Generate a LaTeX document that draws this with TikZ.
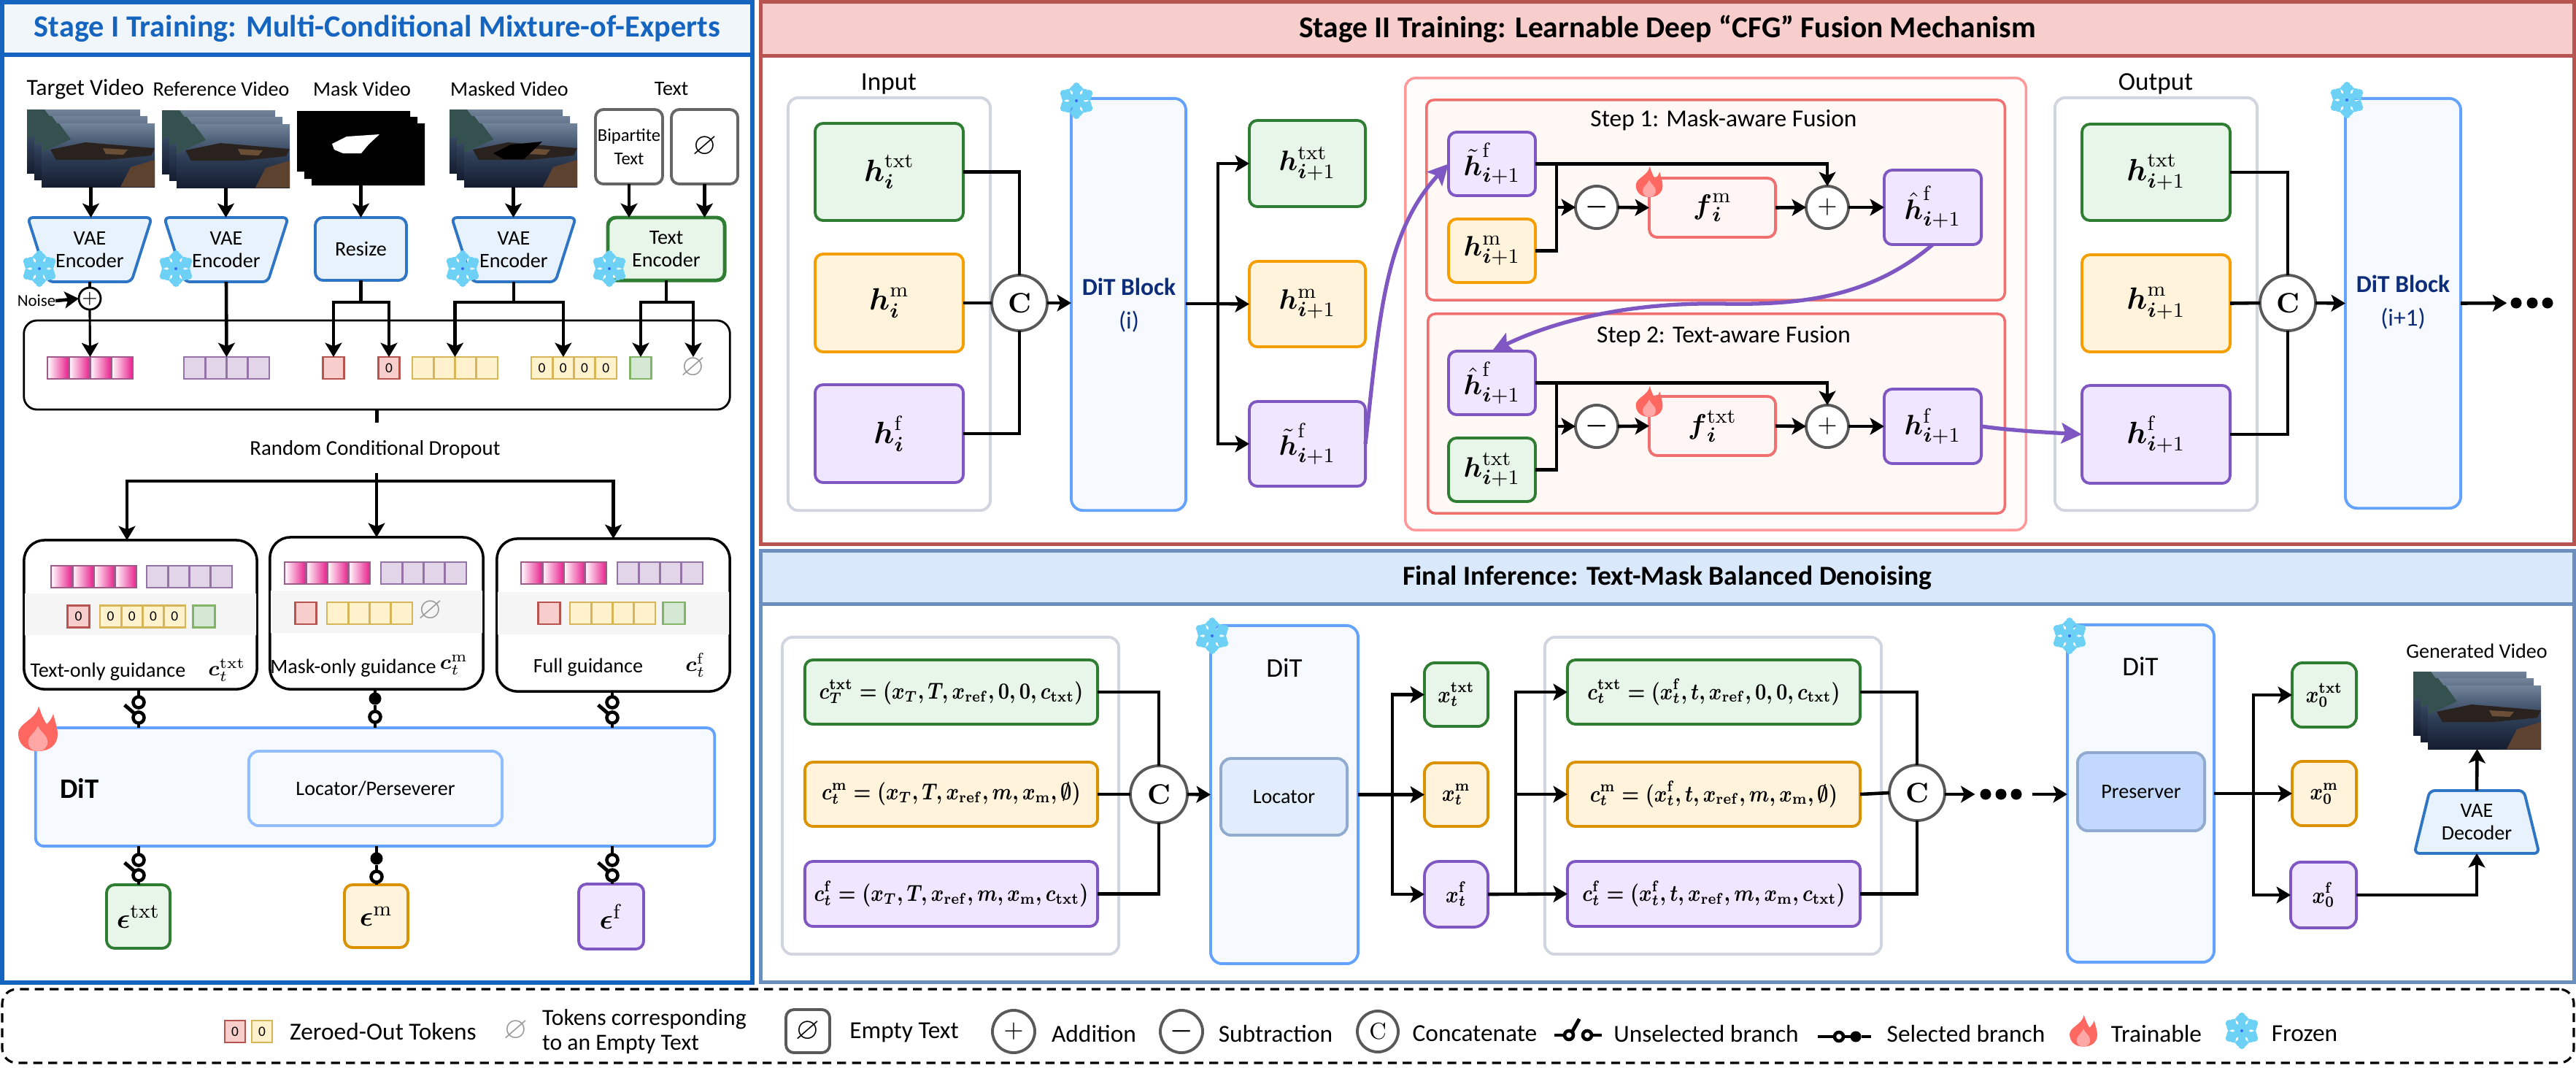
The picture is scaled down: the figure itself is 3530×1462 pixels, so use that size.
\documentclass[tikz,border=0pt]{standalone}
\usepackage[no-math]{fontspec}
\usepackage{amsmath,amssymb,graphicx}
\setmainfont{Carlito}
\usetikzlibrary{arrows.meta}
\definecolor{oneblue}{HTML}{1565C0}
\definecolor{twored}{HTML}{B85450}
\definecolor{twofill}{HTML}{F8CECC}
\definecolor{infblue}{HTML}{6C8EBF}
\definecolor{inffill}{HTML}{DAE8FC}
\definecolor{presfill}{HTML}{C2D8FC}
\definecolor{gline}{HTML}{2E7D32}
\definecolor{gfill}{HTML}{E8F5E9}
\definecolor{oline}{HTML}{F59E00}
\definecolor{ofill}{HTML}{FFF3DC}
\definecolor{odark}{HTML}{DB9200}
\definecolor{pline}{HTML}{7E57C2}
\definecolor{pfill}{HTML}{F0E6FF}
\definecolor{ditline}{HTML}{64A2FF}
\definecolor{ditfill}{HTML}{F6FAFF}
\definecolor{vaeline}{HTML}{2F75C6}
\definecolor{vaefill}{HTML}{E8F2FC}
\definecolor{frost}{HTML}{6DD0F5}
\definecolor{navy}{HTML}{0D2C7A}
\definecolor{stepline}{HTML}{F07070}
\definecolor{stepfill}{HTML}{FFF8F5}
\definecolor{grayline}{HTML}{D0D5E0}
\definecolor{scsky}{HTML}{71849A}
\definecolor{scmid}{HTML}{2F4058}
\definecolor{scwater}{HTML}{151D30}
\definecolor{schill}{HTML}{34504F}
\definecolor{scboat}{HTML}{29221E}
\definecolor{scdeck}{HTML}{6B4E36}
\definecolor{scrock}{HTML}{5E4230}
\newcommand{\hh}{\boldsymbol{h}}
\newcommand{\ii}{\boldsymbol{i}}
\newcommand{\xx}{\boldsymbol{x}}
\newcommand{\cc}{\boldsymbol{c}}
\newcommand{\tx}{\mathrm{txt}}
\newcommand{\mk}{\mathrm{m}}
\newcommand{\ff}{\mathrm{f}}
\newcommand{\fml}[1]{\scalebox{.82}[1]{\boldmath$#1$}}
\newcommand{\sceneframe}[2]{%
  \fill[top color=scsky,bottom color=scwater,middle color=scmid] (#1,#2) rectangle (#1+155,#2+87);
  \fill[schill] (#1,#2) -- (#1+24,#2) -- (#1+40,#2+22) -- (#1+8,#2+36) -- (#1,#2+40) -- cycle;
  \fill[scboat] (#1+12,#2+36) -- (#1+60,#2+26) -- (#1+155,#2+34) -- (#1+150,#2+44) -- (#1+90,#2+50) -- (#1+20,#2+50) -- cycle;
  \fill[scdeck] (#1+84,#2+34) -- (#1+118,#2+36) -- (#1+112,#2+43) -- (#1+88,#2+42) -- cycle;
  \fill[scrock] (#1+108,#2+87) -- (#1+122,#2+60) -- (#1+155,#2+50) -- (#1+155,#2+87) -- cycle;}
\newcommand{\videostack}[3]{%
  \sceneframe{#2}{#3}
  \sceneframe{#2+10}{#3+9}
  \sceneframe{#2+20}{#3+19}
  \node[minimum width=1.75cm,minimum height=1.06cm] (#1) at (#2+87.5,#3+53) {};}
\newcommand{\tokrow}[5]{%
  \foreach \k in {0,1,2,3}
    \node[cell,#4] (#1\k) at (#2+29.25*\k,#3) {#5};}
\newcommand{\vaeshape}[7]{%
  \draw[vae] (#2-#4/2,#3-#6/2) -- (#2+#4/2,#3-#6/2) -- (#2+#5/2,#3+#6/2) -- (#2-#5/2,#3+#6/2) -- cycle;
  \node[minimum width=1.2cm,minimum height=#6*0.01cm,align=center,font=\fontsize{8}{9}\selectfont] (#1) at (#2,#3) {#7};}
\newcommand{\swoff}[5]{%
  \node[swopen] (#1a) at (#2,#3) {};
  \node[swopen] (#1b) at (#2,#3+21) {};
  \draw[swline] (#4 -| #1a) -- (#1a);
  \draw[swline] (#1b) -- (#5 -| #1b);
  \draw[swline] (#1b.north west) -- ++(-14,-12);}
\newcommand{\swon}[5]{%
  \node[swfull] (#1a) at (#2,#3) {};
  \node[swopen] (#1b) at (#2,#3+25) {};
  \draw[swline] (#4 -| #1a) -- (#1a) -- (#1b) -- (#5 -| #1b);}
\tikzset{
  snowflake/.pic={
    \foreach \a in {30,90,150,210,270,330}{
      \draw[frost,line width=2.6pt] (0,0) -- (\a:21);
      \draw[frost,line width=1.8pt] (\a:12) -- ++(\a+50:10);
      \draw[frost,line width=1.8pt] (\a:12) -- ++(\a-50:10);
      \fill[frost] (\a:20) circle (5);}
    \fill[frost] (0,0) circle (10);
    \fill[blue!50!frost] (0,0) circle (2);},
  flame/.pic={
    \fill[red!60!white!95!orange] (0,31) .. controls (-18,31) and (-27,20) .. (-27,7) .. controls (-27,-8) and (-2,-12) .. (1,-31) .. controls (5,-18) and (8,-12) .. (12,-6) .. controls (16,-10) and (19,-14) .. (21,-20) .. controls (24,-8) and (27,0) .. (27,8) .. controls (27,22) and (16,31) .. (0,31) -- cycle;
    \fill[red!35!white] (0,31) .. controls (-10,31) and (-14,24) .. (-13,16) .. controls (-11,8) and (-4,6) .. (0,-4) .. controls (4,6) and (12,8) .. (13,17) .. controls (14,25) and (8,31) .. (0,31) -- cycle;},
}
\begin{document}
\begin{tikzpicture}[x=0.01cm,y=-0.01cm,
    every node/.style={inner sep=0pt,outer sep=0pt},
    conn/.style={line width=1.3pt},
    arr/.style={line width=1.3pt,-{Stealth[length=5.5pt,width=6.5pt,inset=1.3pt]}},
    purp/.style={line width=1.5pt,pline,-{Stealth[length=8pt,width=8pt,inset=1.6pt]}},
    lbl/.style={font=\fontsize{8}{9}\selectfont,align=center},
    leg/.style={font=\fontsize{9.5}{11}\selectfont,align=center},
    bigmath/.style={font=\fontsize{12}{14}\selectfont},
    midmath/.style={font=\fontsize{11}{13}\selectfont},
    fmath/.style={font=\fontsize{9}{11}\selectfont},
    box/.style={draw,line width=1.1pt,rounded corners=0.11cm},
    gbox/.style={box,draw=gline,fill=gfill},
    obox/.style={box,draw=oline,fill=ofill},
    odbox/.style={box,draw=odark,fill=ofill},
    pbox/.style={box,draw=pline,fill=pfill},
    graybox/.style={draw=grayline,line width=1.1pt,rounded corners=0.14cm,fill=white},
    ditbox/.style={box,draw=ditline,fill=ditfill,rounded corners=0.16cm},
    vae/.style={draw=vaeline,fill=vaefill,line width=1.1pt,rounded corners=0.07cm},
    opc/.style={circle,draw=black!65,fill=white,line width=1.1pt,minimum size=0.58cm},
    bigc/.style={opc,minimum size=0.76cm,font=\fontsize{11}{13}\selectfont},
    stepbox/.style={draw=stepline,fill=stepfill,line width=1pt,rounded corners=0.1cm},
    fbox/.style={box,draw=stepline,fill=red!4},
    cell/.style={draw,line width=0.8pt,minimum width=0.2925cm,minimum height=0.3cm,font=\fontsize{5.5}{6}\selectfont},
    tpink/.style={draw={rgb,255:red,160;green,90;blue,138},left color=white,right color={rgb,255:red,233;green,30;blue,140}},
    tpurple/.style={draw={rgb,255:red,150;green,115;blue,166},fill={rgb,255:red,225;green,213;blue,231}},
    tred/.style={draw=twored,fill=twofill},
    tyellow/.style={draw={rgb,255:red,214;green,182;blue,86},fill={rgb,255:red,255;green,242;blue,204}},
    tgreen/.style={draw={rgb,255:red,130;green,179;blue,102},fill={rgb,255:red,213;green,232;blue,212}},
    emptytok/.style={text=black!40,font=\fontsize{12}{14}\selectfont},
    swline/.style={line width=1.4pt},
    swopen/.style={circle,draw,line width=1.3pt,fill=white,minimum size=0.15cm},
    swfull/.style={circle,fill=black,minimum size=0.17cm},
    dotn/.style={circle,fill=black,minimum size=0.15cm}]
\path[use as bounding box,fill=white] (0,0) rectangle (3530,1462);

% panels
\node[draw=oneblue,line width=1.7pt,minimum width=10.28cm,minimum height=13.43cm] (stageone) at (517,674.5) {};
\node[draw=oneblue,fill=oneblue!6,line width=1.7pt,minimum width=10.28cm,minimum height=0.72cm,font=\bfseries\fontsize{12}{14}\selectfont,text=oneblue] (onehead) at (517,39) {Stage I Training: Multi-Conditional Mixture-of-Experts};
\node[draw=twored,line width=1.4pt,minimum width=24.84cm,minimum height=7.42cm] (stagetwo) at (2285,374) {};
\node[draw=twored,fill=twofill,line width=1.4pt,minimum width=24.84cm,minimum height=0.73cm,font=\bfseries\fontsize{11.8}{14}\selectfont] (twohead) at (2285,39.5) {Stage II Training: Learnable Deep ``CFG'' Fusion Mechanism};
\node[draw=infblue,line width=1.4pt,minimum width=24.84cm,minimum height=5.9cm] (stageinf) at (2285,1050) {};
\node[draw=infblue,fill=inffill,line width=1.4pt,minimum width=24.84cm,minimum height=0.72cm,font=\bfseries\fontsize{10.7}{13}\selectfont] (infhead) at (2285,791) {Final Inference: Text-Mask Balanced Denoising};
\node[draw,dashed,dash pattern=on 3.5pt off 2.3pt,line width=0.9pt,rounded corners=0.2cm,minimum width=35.22cm,minimum height=1.01cm] (legend) at (1765,1405.5) {};

% stage one, inputs
\node[lbl,font=\fontsize{9}{10}\selectfont] (lt) at (117,122) {Target Video};
\node[lbl] (lr) at (303,122) {Reference Video};
\node[lbl] (lm) at (496,122) {Mask Video};
\node[lbl] (lk) at (698,122) {Masked Video};
\node[lbl] (lx) at (920,122) {Text};
\videostack{vt}{37}{150}
\videostack{vr}{222}{151}
\fill[black] (407,152) rectangle (562,235) (417,160) rectangle (572,245) (427,169) rectangle (582,254);
\fill[white] (455,197) -- (475,187) -- (520,184) -- (505,198) -- (495,210) -- (470,210) -- (458,205) -- cycle;
\node[minimum width=1.75cm,minimum height=1.02cm] (vm) at (494.5,203) {};
\videostack{vk}{616}{150}
\fill[black] (743,194) -- (700,198) -- (676,210) -- (690,218) -- (718,218) -- cycle;
\node[box,draw=black!60,fill=white,minimum width=0.92cm,minimum height=1.02cm,font=\fontsize{7}{9}\selectfont,align=center] (bip) at (862,201) {Bipartite\\Text};
\node[box,draw=black!60,fill=white,minimum width=0.91cm,minimum height=1.02cm,font=\fontsize{12}{14}\selectfont] (emp) at (965.5,201) {$\boldsymbol{\varnothing}$};
\vaeshape{enc1}{123}{342}{170}{114}{88}{VAE\\Encoder}
\vaeshape{enc2}{310}{342}{170}{114}{88}{VAE\\Encoder}
\vaeshape{enc3}{704}{342}{170}{114}{88}{VAE\\Encoder}
\node[box,draw=vaeline,fill=vaefill,minimum width=1.25cm,minimum height=0.86cm,lbl] (rsz) at (494.5,341) {Resize};
\node[box,draw=gline,fill=gfill,line width=1.4pt,minimum width=1.6cm,minimum height=0.86cm,lbl] (txe) at (913,341) {Text\\Encoder};
\draw[arr] (vt.south) -- (vt.south |- enc1.north);
\draw[arr] (vr.south) -- (vr.south |- enc2.north);
\draw[arr] (vm.south) -- (rsz.north);
\draw[arr] (vk.south) -- (vk.south |- enc3.north);
\draw[arr] (bip.south) -- (bip.south |- txe.north);
\draw[arr] (emp.south) -- (emp.south |- txe.north);
\pic at (54,368) {snowflake};
\pic at (241,368) {snowflake};
\pic at (634,368) {snowflake};
\pic at (835,368) {snowflake};

% token row
\node[draw,line width=0.8pt,rounded corners=0.18cm,minimum width=9.67cm,minimum height=1.22cm] (tbox) at (516.5,500) {};
\tokrow{tp}{79.6}{504}{tpink}{}
\tokrow{tq}{266.6}{504}{tpurple}{}
\node[cell,tred] (tkr) at (457,504) {};
\node[cell,tred] (tkz) at (533,504) {0};
\tokrow{ty}{579.6}{504}{tyellow}{}
\tokrow{to}{742.6}{504}{tyellow}{0}
\node[cell,tgreen] (tkg) at (878,504) {};
\node[emptytok,minimum height=0.3cm] (tke) at (950,504) {$\boldsymbol{\varnothing}$};
\node[opc,minimum size=0.3cm,line width=0.8pt,draw=black,font=\fontsize{7}{8}\selectfont] (pl0) at (123,409) {$+$};
\node[font=\fontsize{6.5}{8}\selectfont] (noise) at (50,412) {Noise};
\draw[arr] (noise.east) -- (pl0.west);
\draw[conn,line width=0.9pt] (enc1.south) -- (pl0.north);
\draw[arr,line width=0.9pt] (pl0.south) -- (tp1.north east);
\draw[arr] (enc2.south) -- (tq1.north east);
\draw[arr] (rsz.south) -- ++(0,30) -| (tkr.north);
\draw[arr] (rsz.south) -- ++(0,30) -| (tkz.north);
\draw[arr] (enc3.south) -- ++(0,28) -| (ty1.north east);
\draw[arr] (enc3.south) -- ++(0,28) -| (to1.north);
\draw[arr] (txe.south) -- ++(0,30) -| (tkg.north);
\draw[arr] (txe.south) -- ++(0,30) -| (tke.north);
\draw[conn] (tbox.south) -- ++(0,18);
\node[lbl,font=\fontsize{8.2}{10}\selectfont] (drop) at (514,616) {Random Conditional Dropout};

% three guidances
\node[draw,line width=1pt,rounded corners=0.28cm,minimum width=3.19cm,minimum height=2.04cm] (g1) at (192.5,842) {};
\node[draw,line width=1pt,rounded corners=0.28cm,minimum width=2.92cm,minimum height=2.08cm] (g2) at (516,840) {};
\node[draw,line width=1pt,rounded corners=0.28cm,minimum width=3.19cm,minimum height=2.09cm] (g3) at (840.5,842.5) {};
\coordinate (dtop) at (516,648);
\coordinate (dbar) at (516,659);
\coordinate (g1in) at (174,740);
\draw[arr] (dtop) -- (g2.north);
\draw[arr] (dbar) -| (g1in);
\draw[arr] (dbar) -| (g3.north);
\fill[black!4] (34,813) rectangle (351,870) (371,809) rectangle (661,867) (682,811) rectangle (999,869);
\tokrow{ap}{84.6}{790}{tpink}{}
\tokrow{aq}{215.6}{790}{tpurple}{}
\node[cell,tred] (ar) at (107.5,844.5) {0};
\tokrow{ay}{151.6}{844.5}{tyellow}{0}
\node[cell,tgreen] (ag) at (279.5,844.5) {};
\tokrow{bp}{404.6}{785}{tpink}{}
\tokrow{bq}{536.6}{785}{tpurple}{}
\node[cell,tred] (br) at (419,840) {};
\tokrow{by}{462.6}{840}{tyellow}{}
\node[emptytok] (be) at (590,837) {$\boldsymbol{\varnothing}$};
\tokrow{cp}{728.6}{785}{tpink}{}
\tokrow{cq}{860.6}{785}{tpurple}{}
\node[cell,tred] (cr) at (752.5,840) {};
\tokrow{cy}{795.6}{840}{tyellow}{}
\node[cell,tgreen] (cg) at (923.5,840) {};
\node[lbl] (t1) at (148,920) {Text-only guidance};
\node[font=\fontsize{8.5}{10}\selectfont] (c1) at (311,918) {$\cc_t^{\tx}$};
\node[lbl] (t2) at (484,915) {Mask-only guidance};
\node[font=\fontsize{8.5}{10}\selectfont] (c2) at (622,911) {$\cc_t^{\mk}$};
\node[lbl] (t3) at (806,914) {Full guidance};
\node[font=\fontsize{8.5}{10}\selectfont] (c3) at (953,911) {$\cc_t^{\ff}$};

% stage one, dit and switches
\node[box,draw=ditline,fill=ditfill,minimum width=9.3cm,minimum height=1.62cm] (dit0) at (514,1078) {};
\node[box,draw=ditline!70,fill=ditfill,rounded corners=0.14cm,minimum width=3.47cm,minimum height=1.02cm,font=\fontsize{8}{10}\selectfont] (loc0) at (514.5,1080) {Locator/Perseverer};
\node[font=\bfseries\fontsize{11}{13}\selectfont] (dt0) at (109,1080) {DiT};
\pic at (52,998) {flame};
\swoff{s1}{190}{962}{g1.south}{dit0.north}
\swon{s2}{514}{957}{g2.south}{dit0.north}
\swoff{s3}{839}{962}{g3.south}{dit0.north}
\node[gbox,minimum width=0.87cm,minimum height=0.87cm,midmath] (e1) at (189.5,1255.5) {$\boldsymbol{\epsilon}^{\tx}$};
\node[odbox,minimum width=0.87cm,minimum height=0.86cm,midmath] (e2) at (515.5,1255) {$\boldsymbol{\epsilon}^{\mk}$};
\node[pbox,minimum width=0.89cm,minimum height=0.89cm,midmath] (e3) at (837.5,1255.5) {$\boldsymbol{\epsilon}^{\ff}$};
\swoff{s4}{190}{1178}{dit0.south}{e1.north}
\swon{s5}{516}{1176}{dit0.south}{e2.north}
\swoff{s6}{839}{1178}{dit0.south}{e3.north}

% stage two, input side
\node[font=\fontsize{10}{12}\selectfont] (inl) at (1218,115) {Input};
\node[graybox,minimum width=2.77cm,minimum height=5.65cm] (ing) at (1218.5,416.5) {};
\node[gbox,minimum width=2.03cm,minimum height=1.33cm,bigmath] (hit) at (1218.5,235.5) {$\hh_{\ii}^{\tx}$};
\node[obox,minimum width=2.03cm,minimum height=1.34cm,bigmath] (him) at (1218.5,415) {$\hh_{\ii}^{\mk}$};
\node[pbox,minimum width=2.03cm,minimum height=1.34cm,bigmath] (hif) at (1218.5,594) {$\hh_{\ii}^{\ff}$};
\node[bigc] (ci) at (1397,415) {$\mathbf{C}$};
\draw[conn] (hit.east) -| (ci.north);
\draw[conn] (him.east) -- (ci.west);
\draw[conn] (hif.east) -| (ci.south);
\node[ditbox,minimum width=1.57cm,minimum height=5.64cm] (dit1) at (1546.5,417) {};
\node[text=navy,align=center,font=\bfseries\fontsize{9.5}{12}\selectfont] (dit1t) at (1547,418) {DiT Block\\[1pt]\mdseries (i)};
\pic at (1475,138) {snowflake};
\draw[arr] (ci.east) -- (ci.east -| dit1.west);
\node[gbox,minimum width=1.59cm,minimum height=1.18cm,midmath] (nt) at (1791.5,224) {$\hh_{\ii+1}^{\tx}$};
\node[obox,minimum width=1.59cm,minimum height=1.17cm,midmath] (nm) at (1791.5,416.5) {$\hh_{\ii+1}^{\mk}$};
\node[pbox,minimum width=1.59cm,minimum height=1.16cm,midmath] (nf) at (1791.5,608) {$\tilde{\hh}_{\ii+1}^{\ff}$};
\coordinate (bra) at (1669,416);
\draw[conn] (dit1.east |- bra) -- (bra);
\draw[arr] (bra) -- (nm.west);
\draw[arr] (bra) |- (nt.west);
\draw[arr] (bra) |- (nf.west);

% fusion steps
\node[draw=red!40,fill=red!1,line width=1pt,rounded corners=0.14cm,minimum width=8.5cm,minimum height=6.19cm] (fus) at (2351,416.5) {};
\node[stepbox,minimum width=7.92cm,minimum height=2.74cm] (st1) at (2351,274) {};
\node[stepbox,minimum width=7.9cm,minimum height=2.73cm] (st2) at (2352,566.5) {};
\node[font=\fontsize{9.5}{11}\selectfont] (st1t) at (2362,165) {Step 1: Mask-aware Fusion};
\node[font=\fontsize{9.5}{11}\selectfont] (st2t) at (2362,461) {Step 2: Text-aware Fusion};
\node[pbox,minimum width=1.19cm,minimum height=0.87cm,midmath] (aa) at (2044.5,224.5) {$\tilde{\hh}_{\ii+1}^{\ff}$};
\node[obox,minimum width=1.19cm,minimum height=0.87cm,midmath] (ab) at (2044.5,343.5) {$\hh_{\ii+1}^{\mk}$};
\node[opc,font=\fontsize{10}{12}\selectfont] (am) at (2188,284) {$\boldsymbol{-}$};
\node[fbox,minimum width=1.73cm,minimum height=0.81cm,midmath] (af) at (2346.5,284.5) {$\boldsymbol{f}_{\ii}^{\mk}$};
\node[opc,font=\fontsize{10}{12}\selectfont] (ap) at (2504,284) {$+$};
\node[pbox,minimum width=1.33cm,minimum height=1.02cm,midmath] (ah) at (2648.5,284) {$\hat{\hh}_{\ii+1}^{\ff}$};
\coordinate (aj) at (2133,284);
\draw[arr] (aa.east) -| (ap.north);
\draw[conn] (ab.east) -| (aj |- aa.east);
\draw[arr] (aj) -- (am.west);
\draw[arr] (am.east) -- (af.west);
\draw[arr] (af.east) -- (ap.west);
\draw[arr] (ap.east) -- (ah.west);
\pic[scale=.68] at (2260,249) {flame};
\node[pbox,minimum width=1.19cm,minimum height=0.87cm,midmath] (ba) at (2044.5,524.5) {$\hat{\hh}_{\ii+1}^{\ff}$};
\node[gbox,minimum width=1.19cm,minimum height=0.87cm,midmath] (bb) at (2044.5,643.5) {$\hh_{\ii+1}^{\tx}$};
\node[opc,font=\fontsize{10}{12}\selectfont] (bm) at (2188,584) {$\boldsymbol{-}$};
\node[fbox,minimum width=1.73cm,minimum height=0.81cm,midmath] (bf) at (2346.5,583.5) {$\boldsymbol{f}_{\ii}^{\tx}$};
\node[opc,font=\fontsize{10}{12}\selectfont] (bl) at (2504,584) {$+$};
\node[pbox,minimum width=1.33cm,minimum height=1.02cm,midmath] (bh) at (2648.5,584) {$\hh_{\ii+1}^{\ff}$};
\coordinate (bj) at (2133,584);
\draw[arr] (ba.east) -| (bl.north);
\draw[conn] (bb.east) -| (bj |- ba.east);
\draw[arr] (bj) -- (bm.west);
\draw[arr] (bm.east) -- (bf.west);
\draw[arr] (bf.east) -- (bl.west);
\draw[arr] (bl.east) -- (bh.west);
\pic[scale=.68] at (2260,550) {flame};

% stage two, output side
\node[font=\fontsize{10}{12}\selectfont] (oul) at (2954,115) {Output};
\node[graybox,minimum width=2.77cm,minimum height=5.65cm] (oug) at (2954.5,416.5) {};
\node[gbox,minimum width=2.03cm,minimum height=1.32cm,bigmath] (ot) at (2954.5,236) {$\hh_{\ii+1}^{\tx}$};
\node[obox,minimum width=2.03cm,minimum height=1.33cm,bigmath] (om) at (2954.5,415.5) {$\hh_{\ii+1}^{\mk}$};
\node[pbox,minimum width=2.03cm,minimum height=1.34cm,bigmath] (of) at (2954.5,595) {$\hh_{\ii+1}^{\ff}$};
\node[bigc] (co) at (3135,415) {$\mathbf{C}$};
\draw[conn] (ot.east) -| (co.north);
\draw[conn] (om.east) -- (co.west);
\draw[conn] (of.east) -| (co.south);
\node[ditbox,minimum width=1.58cm,minimum height=5.61cm] (dit2) at (3293,415.5) {};
\node[text=navy,align=center,font=\bfseries\fontsize{9.5}{12}\selectfont] (dit2t) at (3293,414) {DiT Block\\[1pt]\mdseries (i+1)};
\pic at (3216,137) {snowflake};
\draw[arr] (co.east) -- (dit2.west);
\node[dotn] (da) at (3448,415) {};
\node[dotn] (db) at (3470,415) {};
\node[dotn] (dc) at (3491,415) {};
\draw[arr,shorten >=1.5pt] (dit2.east) -- (da);

% purple curves
\draw[purp] (nf.east) .. controls (1890,440) and (1896,320) .. (aa.west);
\draw[purp] (ah.south) .. controls (2560,410) and (2460,418) .. (2359,416) .. controls (2230,414) and (2130,440) .. (ba.north);
\draw[purp] (bh.east) .. controls (2760,590) and (2800,592) .. (of.west);

% final inference
\node[graybox,minimum width=4.61cm,minimum height=4.34cm] (fg1) at (1302.5,1090) {};
\node[gbox,minimum width=4.01cm,minimum height=0.88cm,fmath] (ca) at (1303.5,948) {\fml{\cc_T^{\tx}=(\xx_T,T,\xx_{\mathrm{ref}},\mathbf{0},\mathbf{0},\cc_{\tx})}};
\node[odbox,minimum width=4.01cm,minimum height=0.88cm,fmath] (cb) at (1303.5,1088) {\fml{\cc_t^{\mk}=(\xx_T,T,\xx_{\mathrm{ref}},m,\xx_{\mathrm{m}},\emptyset)}};
\node[pbox,minimum width=4.01cm,minimum height=0.89cm,fmath] (cc) at (1303.5,1224.5) {\fml{\cc_t^{\ff}=(\xx_T,T,\xx_{\mathrm{ref}},m,\xx_{\mathrm{m}},\cc_{\tx})}};
\node[bigc,minimum size=0.78cm] (cx) at (1588,1088) {$\mathbf{C}$};
\draw[conn] (ca.east) -| (cx.north);
\draw[conn] (cb.east) -- (cx.west);
\draw[conn] (cc.east) -| (cx.south);
\node[ditbox,minimum width=2.02cm,minimum height=4.63cm] (dit3) at (1760,1088.5) {};
\node[font=\fontsize{10.5}{12}\selectfont] (dit3t) at (1760,915) {DiT};
\node[box,draw=infblue!75,fill=inffill!80,rounded corners=0.14cm,minimum width=1.73cm,minimum height=1.05cm,lbl] (locr) at (1759.5,1091.5) {Locator};
\pic at (1661,871) {snowflake};
\draw[arr] (cx.east) -- (dit3.west);
\node[gbox,minimum width=0.87cm,minimum height=0.87cm,fmath,rounded corners=0.14cm] (xa) at (1995.5,951.5) {\fml{\xx_t^{\tx}}};
\node[odbox,minimum width=0.87cm,minimum height=0.87cm,fmath,rounded corners=0.14cm] (xb) at (1995.5,1088.5) {\fml{\xx_t^{\mk}}};
\node[pbox,minimum width=0.87cm,minimum height=0.9cm,fmath,rounded corners=0.2cm] (xc) at (1995.5,1225) {\fml{\xx_t^{\ff}}};
\coordinate (brx) at (1908,1088.5);
\draw[conn] (dit3.east |- brx) -- (brx);
\draw[arr] (brx) -- (xb.west);
\draw[arr] (brx) |- (xa.west);
\draw[arr] (brx) |- (xc.west);
\node[graybox,minimum width=4.61cm,minimum height=4.34cm] (fg2) at (2347.5,1090) {};
\node[gbox,minimum width=4.01cm,minimum height=0.88cm,fmath] (ra) at (2348.5,948) {\fml{\cc_t^{\tx}=(\xx_t^{\ff},t,\xx_{\mathrm{ref}},\mathbf{0},\mathbf{0},\cc_{\tx})}};
\node[odbox,minimum width=4.01cm,minimum height=0.88cm,fmath] (rb) at (2348.5,1088) {\fml{\cc_t^{\mk}=(\xx_t^{\ff},t,\xx_{\mathrm{ref}},m,\xx_{\mathrm{m}},\emptyset)}};
\node[pbox,minimum width=4.01cm,minimum height=0.89cm,fmath] (rc) at (2348.5,1224.5) {\fml{\cc_t^{\ff}=(\xx_t^{\ff},t,\xx_{\mathrm{ref}},m,\xx_{\mathrm{m}},\cc_{\tx})}};
\coordinate (brf) at (2077,1225);
\draw[arr] (xc.east) -- (rc.west);
\draw[arr] (brf) |- (ra.west);
\draw[arr] (brf) |- (rb.west);
\node[bigc] (cy) at (2627,1086) {$\mathbf{C}$};
\draw[conn] (ra.east) -| (cy.north);
\draw[conn] (rb.east) -- (cy.west);
\draw[conn] (rc.east) -| (cy.south);
\node[dotn] (ea) at (2721,1088) {};
\node[dotn] (eb) at (2742,1088) {};
\node[dotn] (ec) at (2763,1088) {};
\node[ditbox,minimum width=2.01cm,minimum height=4.62cm] (dit4) at (2933.5,1087) {};
\node[font=\fontsize{10.5}{12}\selectfont] (dit4t) at (2933,913) {DiT};
\node[box,draw=infblue!75,fill=presfill,rounded corners=0.14cm,minimum width=1.74cm,minimum height=1.07cm,lbl] (pres) at (2934,1084.5) {Preserver};
\pic at (2836,871) {snowflake};
\draw[arr,shorten >=2pt] (cy.east |- ea) -- (ea);
\draw[arr,shorten <=4pt] (ec) -- (ec -| dit4.west);
\node[gbox,minimum width=0.88cm,minimum height=0.88cm,fmath,rounded corners=0.14cm] (ya) at (3185,952) {\fml{\xx_0^{\tx}}};
\node[odbox,minimum width=0.88cm,minimum height=0.88cm,fmath,rounded corners=0.14cm] (yb) at (3185,1087) {\fml{\xx_0^{\mk}}};
\node[pbox,minimum width=0.9cm,minimum height=0.9cm,fmath,rounded corners=0.14cm] (yc) at (3184,1226) {\fml{\xx_0^{\ff}}};
\coordinate (bry) at (3088,1087);
\draw[conn] (dit4.east |- bry) -- (bry);
\draw[arr] (bry) -- (yb.west);
\draw[arr] (bry) |- (ya.west);
\draw[arr] (bry) |- (yc.west);
\vaeshape{dec}{3394}{1126}{129}{171}{86}{VAE\\Decoder}
\videostack{vg}{3307}{920}
\node[lbl] (gl) at (3394,892) {Generated Video};
\draw[arr] (yc.east) -| (dec.south);
\draw[arr] (dec.north) -- (vg.south);

% legend
\node[cell,tred,minimum width=0.28cm] (lza) at (322,1413) {0};
\node[cell,tyellow,minimum width=0.28cm] (lzb) at (359,1413) {0};
\node[leg] (lzt) at (525,1413) {Zeroed-Out Tokens};
\node[emptytok] (lze) at (707,1412) {$\boldsymbol{\varnothing}$};
\node[font=\fontsize{9}{9.7}\selectfont,align=left] (lct) at (883,1413) {Tokens corresponding\\to an Empty Text};
\node[box,draw=black!65,minimum width=0.6cm,minimum height=0.59cm,font=\fontsize{12}{14}\selectfont] (lb) at (1107,1412.5) {$\boldsymbol{\varnothing}$};
\node[leg] (lbt) at (1239,1414) {Empty Text};
\node[opc,font=\fontsize{10}{12}\selectfont] (lp) at (1389,1413) {$+$};
\node[leg] (lpt) at (1499,1416) {Addition};
\node[opc,font=\fontsize{10}{12}\selectfont] (lm2) at (1619,1413) {$\boldsymbol{-}$};
\node[leg] (lmt) at (1748,1416) {Subtraction};
\node[opc,minimum size=0.56cm,font=\fontsize{9}{11}\selectfont] (lc) at (1888,1413) {$\mathrm{C}$};
\node[leg] (lct2) at (2021,1416) {Concatenate};
\node[swopen,minimum size=0.12cm] (lua) at (2150,1418) {};
\node[swopen,minimum size=0.12cm] (lub) at (2175,1418) {};
\coordinate (luc) at (2130,1418);
\coordinate (lud) at (2195,1418);
\draw[swline] (luc) -- (lua);
\draw[swline] (lub) -- (lud);
\draw[swline] (lua.north east) -- ++(10,-18);
\node[leg] (lut) at (2338,1416) {Unselected branch};
\node[swopen,minimum size=0.12cm] (lsa) at (2520,1420) {};
\node[swfull,minimum size=0.15cm] (lsb) at (2543,1420) {};
\coordinate (lsc) at (2491,1420);
\coordinate (lsd) at (2564,1420);
\draw[swline] (lsc) -- (lsa) -- (lsb) -- (lsd);
\node[leg] (lst) at (2694,1416) {Selected branch};
\pic[scale=.7] at (2855,1412) {flame};
\node[leg] (lft) at (2955,1416) {Trainable};
\pic at (3072,1412) {snowflake};
\node[leg] (lfz) at (3158,1416) {Frozen};
\end{tikzpicture}
\end{document}
